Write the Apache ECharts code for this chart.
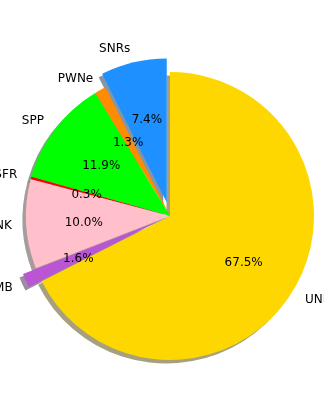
<!DOCTYPE html>
<html>
<head>
<meta charset="utf-8">
<script src="https://cdn.jsdelivr.net/npm/echarts@6/dist/echarts.min.js"></script>
<style>html,body{margin:0;padding:0;background:#fff}#c{width:324px;height:400px}</style>
</head>
<body>
<div id="c"></div>
<script>
const categories = ['SNRs', 'PWNe', 'SPP', 'SFR', 'UNK', 'MB', 'UNID'];
const shares = [7.4, 1.3, 11.9, 0.3, 10.0, 1.6, 67.5];
const sliceColors = ['#1E90FF', '#FF8C00', '#00FF00', '#FF0000', '#FFC0CB', '#BA55D3', '#FFD700'];
const explodedSlices = ['SNRs', 'MB'];

const R = 144, CX = 170, CY = 216;
const FONT = 'DejaVu Sans';

function shadowOf(hex) {
  const n = parseInt(hex.slice(1), 16);
  const r = Math.round(((n >> 16) & 255) * 0.3);
  const g = Math.round(((n >> 8) & 255) * 0.3);
  const b = Math.round((n & 255) * 0.3);
  return 'rgba(' + r + ',' + g + ',' + b + ',0.5)';
}

function makeData(colorFn) {
  return categories.map((name, i) => ({
    name: name,
    value: shares[i],
    selected: explodedSlices.indexOf(name) >= 0,
    itemStyle: { color: colorFn(i) }
  }));
}

const common = {
  type: 'pie',
  startAngle: 90,
  clockwise: false,
  selectedMode: 'multiple',
  selectedOffset: 14,
  avoidLabelOverlap: false,
  minShowLabelAngle: 0,
  animation: false,
  silent: true,
  emphasis: { disabled: true }
};

const chart = echarts.init(document.getElementById('c'), null, { renderer: 'canvas' });
chart.setOption({
  backgroundColor: '#ffffff',
  animation: false,
  series: [
    Object.assign({}, common, {
      name: 'shadow',
      z: 1,
      center: [CX - 3.5, CY + 3.5],
      radius: [0, R],
      label: { show: false },
      labelLine: { show: false },
      data: makeData(i => shadowOf(sliceColors[i]))
    }),
    Object.assign({}, common, {
      name: 'main',
      z: 2,
      center: [CX, CY],
      radius: [0, R],
      itemStyle: { borderWidth: 0 },
      label: {
        show: true,
        position: 'outside',
        alignTo: 'none',
        distanceToLabelLine: 0,
        color: '#000',
        fontFamily: FONT,
        fontSize: 12,
        overflow: 'none',
        formatter: p => p.name
      },
      labelLayout: { hideOverlap: false, moveOverlap: null, dy: 1 },
      labelLine: { show: true, length: R * 0.1, length2: 0, lineStyle: { opacity: 0, width: 0 } },
      data: makeData(i => sliceColors[i])
    }),
    Object.assign({}, common, {
      name: 'pct',
      z: 3,
      center: [CX, CY],
      radius: [0, R * 0.6],
      itemStyle: { color: 'rgba(0,0,0,0)', borderWidth: 0 },
      label: {
        show: true,
        position: 'outside',
        alignTo: 'none',
        distanceToLabelLine: 0,
        color: '#000',
        fontFamily: FONT,
        fontSize: 12,
        overflow: 'none',
        formatter: p => p.value.toFixed(1) + '%'
      },
      labelLayout: { align: 'center', verticalAlign: 'middle', hideOverlap: false, moveOverlap: null, dy: 2 },
      labelLine: { show: true, length: 0, length2: 0, lineStyle: { opacity: 0, width: 0 } },
      data: makeData(() => 'rgba(0,0,0,0)')
    })
  ]
});
</script>
</body>
</html>
